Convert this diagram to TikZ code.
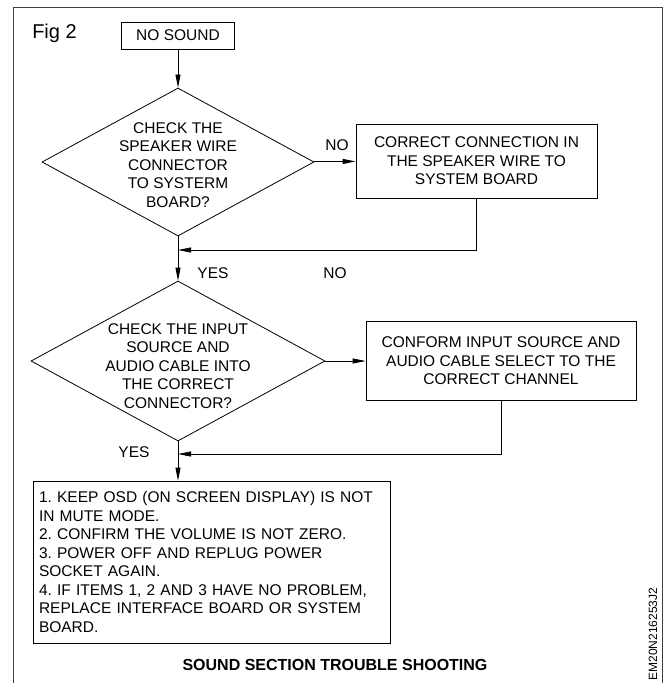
\documentclass[tikz,border=0pt]{standalone}
\usepackage{fontspec}
\setmainfont{Liberation Sans}
\usetikzlibrary{shapes.geometric,arrows.meta}
\frenchspacing

\begin{document}
\begin{tikzpicture}[
  x=1pt, y=-1pt,
  every node/.style={font=\fontsize{15.5}{18.5}\selectfont},
  box/.style={
    draw,
    line width=0.8pt,
    align=center,
    inner sep=0pt
  },
  dec/.style={
    draw,
    diamond,
    line width=0.8pt,
    inner sep=0pt
  },
  frame/.style={line width=0.8pt, black!75},
  arrow/.style={-{Triangle[length=13pt,width=5pt]}, line width=0.8pt}
]
\useasboundingbox (0,0) rectangle (669,683);
\draw[frame] (13,683) |- (662,7) -- (662,683);

\node (fig) at (54.5,33) {\fontsize{20}{24}\selectfont Fig 2};
\node[box, minimum width=113pt, minimum height=27pt] (nosound) at (178,35.5) {NO SOUND};
\node[dec, minimum width=272pt, minimum height=148pt,
  label={[align=center, yshift=-3pt]center:CHECK THE\\SPEAKER WIRE\\CONNECTOR\\TO SYSTERM\\BOARD?}] (chkwire) at (178,162) {};
\node[box, minimum width=241pt, minimum height=74pt] (fixwire) at (476.5,161) {CORRECT CONNECTION IN\\THE SPEAKER WIRE TO\\SYSTEM BOARD};
\node[dec, minimum width=294pt, minimum height=160pt,
  label={[align=center, yshift=-5pt]center:CHECK THE INPUT\\SOURCE AND\\AUDIO CABLE INTO\\THE CORRECT\\CONNECTOR?}] (chkinput) at (178,361) {};
\node[box, minimum width=270pt, minimum height=79pt] (fixinput) at (501,361) {CONFORM INPUT SOURCE AND\\AUDIO CABLE SELECT TO THE\\CORRECT CHANNEL};
\node[box, align=left, text width=345pt, inner xsep=6pt, minimum height=162pt] (steps) at (211.5,562) {1. KEEP OSD (ON SCREEN DISPLAY) IS NOT\\IN MUTE MODE.\\2. CONFIRM THE VOLUME IS NOT ZERO.\\3. POWER OFF AND REPLUG POWER\\SOCKET AGAIN.\\4. IF ITEMS 1, 2 AND 3 HAVE NO PROBLEM,\\REPLACE INTERFACE BOARD OR SYSTEM\\BOARD.};

\node (no1) at (337,145) {NO};
\node (yes1) at (213,273) {YES};
\node (no2) at (335,273) {NO};
\node (yes2) at (134,452) {YES};
\node (title) at (335,665) {\fontsize{16}{19}\selectfont\bfseries SOUND SECTION TROUBLE SHOOTING};
\node[rotate=90] (code) at (653,634) {\fontsize{12}{14}\selectfont EM20N216253J2};

\coordinate (join1) at (178,250);
\coordinate (join2) at (178,454);

\draw[arrow] (nosound) -- (chkwire);
\draw[arrow] (chkwire) -- (fixwire);
\draw[arrow] (fixwire.south) |- (join1);
\draw[arrow] (chkwire.south) -- (chkinput.north);
\draw[arrow] (chkinput) -- (fixinput);
\draw[arrow] (fixinput.south) |- (join2);
\draw[arrow] (chkinput.south) -- (chkinput.south |- steps.north);
\end{tikzpicture}
\end{document}
